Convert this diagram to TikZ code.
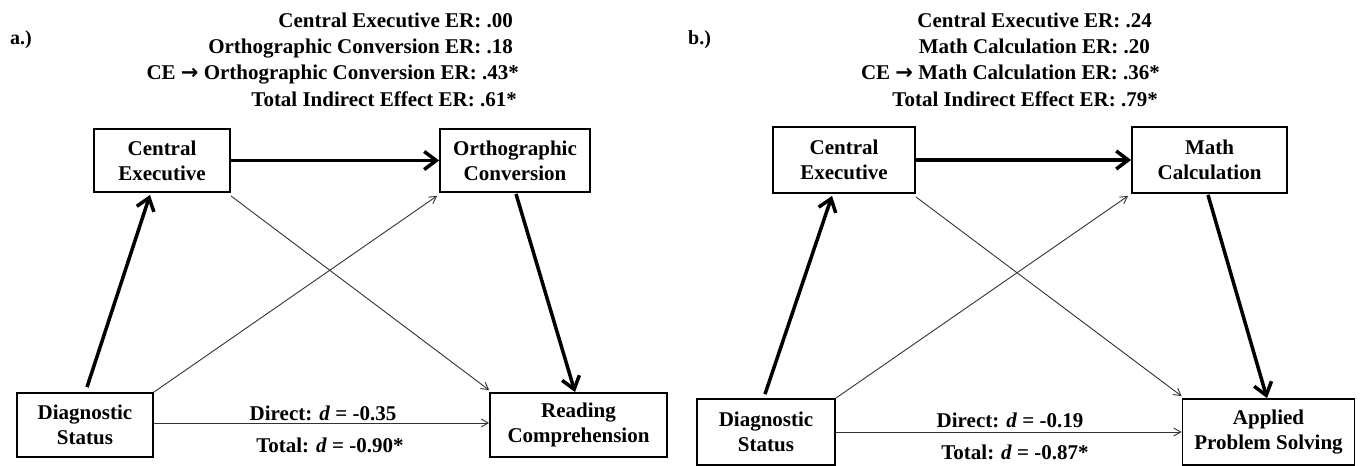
\documentclass[tikz,border=0pt]{standalone}
\usepackage{fontspec}
\setmainfont{Liberation Serif}
\newfontfamily\arrowfont{DejaVu Sans}
\usetikzlibrary{arrows.meta,calc}
\begin{document}
\begin{tikzpicture}[x=1pt,y=-1pt,
  box/.style={draw, line width=1.8pt, inner sep=0pt, align=center, font=\fontsize{21}{25}\selectfont\bfseries},
  hdr/.style={anchor=base east, inner sep=0pt, font=\fontsize{21}{25}\selectfont\bfseries},
  lbl/.style={anchor=base, inner sep=0pt, font=\fontsize{21}{25}\selectfont\bfseries},
  tag/.style={anchor=base west, inner sep=0pt, font=\fontsize{20}{24}\selectfont\bfseries},
  heavyarrow/.style={line width=3.5pt, -{Straight Barb[length=12pt,width=18pt]}},
  lightarrow/.style={line width=0.9pt, black!80, -{Straight Barb[length=7pt,width=8pt]}},
]
\useasboundingbox (0,0) rectangle (1361,466);

% ---------- panel a ----------
\node[tag] (atag) at (10,44) {a.)};
\node[hdr] (ah1) at (513,27) {Central Executive ER: .00};
\node[hdr] (ah2) at (513,53.5) {Orthographic Conversion ER: .18};
\node[hdr] (ah3) at (519,79.5) {CE {\arrowfont →} Orthographic Conversion ER: .43*};
\node[hdr] (ah4) at (517,106) {Total Indirect Effect ER: .61*};

\node[box, minimum width=136pt, minimum height=63pt] (ace) at (162,160.5) {Central\\Executive};
\node[box, minimum width=150pt, minimum height=63pt] (aoc) at (515,160.5) {Orthographic\\Conversion};
\node[box, minimum width=136pt, minimum height=64pt] (ads) at (85,425) {Diagnostic\\Status};
\node[box, minimum width=177pt, minimum height=64pt] (arc) at (578.5,425) {Reading\\Comprehension};

\draw[heavyarrow] ([xshift=2pt,yshift=5pt]ads.north) -- ([xshift=-12pt,yshift=-2pt]ace.south);
\draw[heavyarrow] (ace.east) -- (aoc.west);
\draw[heavyarrow] ([xshift=1pt,yshift=-1pt]aoc.south) -- ([xshift=-3.5pt]arc.north);
\draw[lightarrow] (ads.north east) -- ([xshift=-2pt,yshift=-3pt]aoc.south west);
\draw[lightarrow] ([yshift=-3pt]ace.south east) -- ([yshift=2pt]arc.north west);
\draw[lightarrow] ([yshift=2pt]ads.east) -- ([yshift=2pt]arc.west);
\node[lbl] (adir) at (323,420) {Direct: \textit{d} = -0.35};
\node[lbl] (atot) at (330,452) {Total: \textit{d} = -0.90*};

% ---------- panel b ----------
\node[tag] (btag) at (688,44) {b.)};
\node[hdr] (bh1) at (1152,27) {Central Executive ER: .24};
\node[hdr] (bh2) at (1150,53.5) {Math Calculation ER: .20};
\node[hdr] (bh3) at (1160,79.5) {CE {\arrowfont →} Math Calculation ER: .36*};
\node[hdr] (bh4) at (1158,106) {Total Indirect Effect ER: .79*};

\node[box, minimum width=142pt, minimum height=66pt] (bce) at (844,160) {Central\\Executive};
\node[box, minimum width=155pt, minimum height=66pt] (bmc) at (1209.5,160) {Math\\Calculation};
\node[box, minimum width=138pt, minimum height=66pt] (bds) at (766,432) {Diagnostic\\Status};
\node[box, minimum width=172pt, minimum height=66pt] (bap) at (1268.5,432) {Applied\\Problem Solving};

\draw[heavyarrow] ([xshift=-1pt,yshift=4pt]bds.north) -- ([xshift=-12pt,yshift=-2pt]bce.south);
\draw[heavyarrow] (bce.east) -- (bmc.west);
\draw[heavyarrow] ([xshift=-1.5pt,yshift=-1pt]bmc.south) -- ([xshift=-1.5pt]bap.north);
\draw[lightarrow] (bds.north east) -- ([xshift=-3pt,yshift=-2pt]bmc.south west);
\draw[lightarrow] ([yshift=-3pt]bce.south east) -- ([yshift=2pt]bap.north west);
\draw[lightarrow] (bds.east) -- (bap.west);
\node[lbl] (bdir) at (1010,427) {Direct: \textit{d} = -0.19};
\node[lbl] (btot) at (1015,459) {Total: \textit{d} = -0.87*};
\end{tikzpicture}
\end{document}
